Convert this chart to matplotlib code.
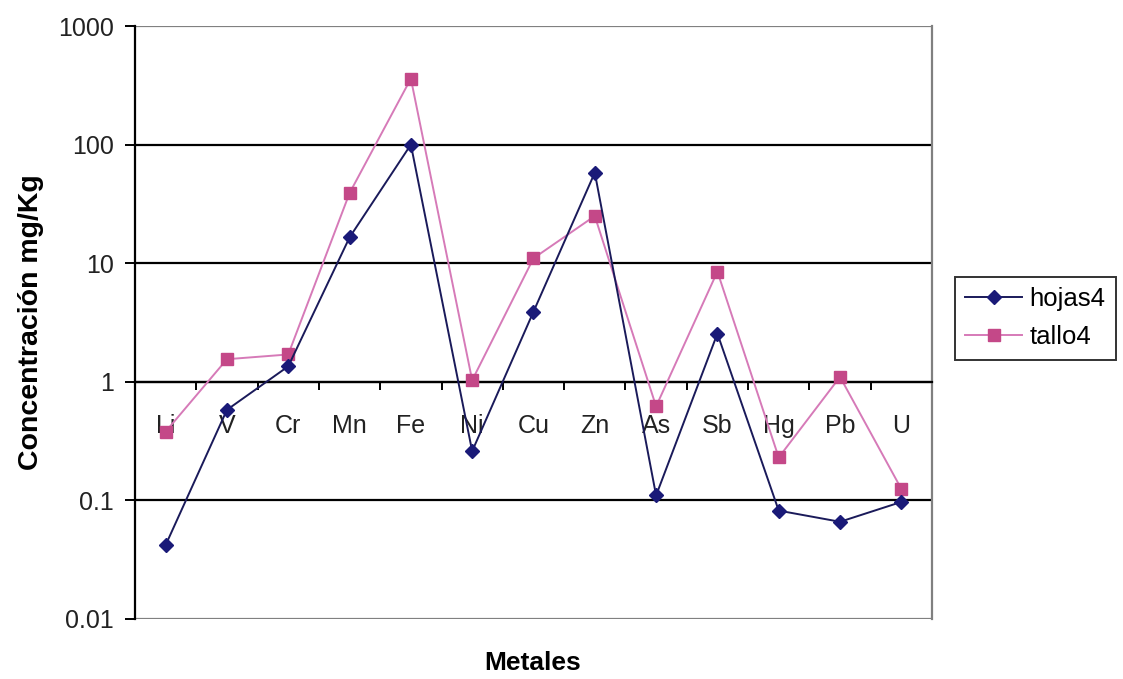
import matplotlib
matplotlib.use("Agg")
import matplotlib.pyplot as plt
from matplotlib.ticker import FixedLocator, NullFormatter

plt.rcParams['font.family'] = ['Liberation Sans', 'DejaVu Sans']

# Metals analysed
metales = ["Li", "V", "Cr", "Mn", "Fe", "Ni", "Cu", "Zn", "As", "Sb", "Hg", "Pb", "U"]

# Concentrations (mg/Kg)
hojas4 = [0.042, 0.58, 1.35, 16.5, 100, 0.26, 3.9, 58, 0.11, 2.55, 0.082, 0.066, 0.097]
tallo4 = [0.38, 1.55, 1.7, 39, 360, 1.03, 11, 25, 0.62, 8.5, 0.23, 1.1, 0.125]

y_ticks = [0.01, 0.1, 1, 10, 100, 1000]
y_labels = ["0.01", "0.1", "1", "10", "100", "1000"]

fig = plt.figure(figsize=(11.23, 6.79), dpi=100)
ax = fig.add_axes([0.1202, 0.0884, 0.7097, 0.8733])

x = list(range(len(metales)))

ax.set_yscale('log')
ax.set_ylim(0.01, 1000)
ax.set_xlim(-0.5, len(metales) - 0.5)

# Horizontal gridlines at each decade
for v in y_ticks:
    col = '#808080' if v in (0.01, 1000) else 'black'
    ax.axhline(v, color=col, lw=1.6, zorder=1)

ax.plot(x, hojas4, color='#1a1a5a', lw=1.4, marker='D', markersize=7,
        markerfacecolor='#1a1a78', markeredgecolor='#1a1a78', label='hojas4', zorder=4)
ax.plot(x, tallo4, color='#d67ab8', lw=1.4, marker='s', markersize=8,
        markerfacecolor='#c44888', markeredgecolor='#c44888', label='tallo4', zorder=3)

# Spines: category axis crosses at 1
ax.spines['bottom'].set_position(('data', 1))
ax.spines['bottom'].set_color('black')
ax.spines['bottom'].set_linewidth(1.6)
ax.spines['left'].set_color('black')
ax.spines['left'].set_linewidth(1.6)
ax.spines['top'].set_visible(False)
ax.spines['right'].set_color('#808080')
ax.spines['right'].set_linewidth(1.6)

ax.set_xticks(x)
ax.set_xticklabels(metales, fontsize=18, color='#222222')
ax.xaxis.set_minor_locator(FixedLocator([i - 0.5 for i in range(len(metales) + 1)]))
ax.xaxis.set_minor_formatter(NullFormatter())
ax.tick_params(axis='x', which='major', length=0, pad=23)
ax.tick_params(axis='x', which='minor', length=6, width=1.4, direction='out', color='black')

ax.set_yticks(y_ticks)
ax.set_yticklabels(y_labels, fontsize=18, color='#222222')
ax.yaxis.set_minor_locator(FixedLocator([]))
ax.tick_params(axis='y', which='major', length=7, width=1.4, direction='out', pad=8)

ax.set_ylabel("Concentración mg/Kg", fontsize=20.5, fontweight='bold', labelpad=10)
fig.text(0.4745, 1 - 663 / 679, "Metales", fontsize=19, fontweight='bold',
         ha='center', va='center')

leg = ax.legend(loc='upper left', bbox_to_anchor=(1.029, 0.577), fontsize=18.5,
                frameon=True, fancybox=False, edgecolor='black', handlelength=2.2,
                handletextpad=0.3, borderpad=0.4, labelspacing=0.55, borderaxespad=0)
leg.get_frame().set_linewidth(1.4)

fig.savefig("out.png", dpi=100)
